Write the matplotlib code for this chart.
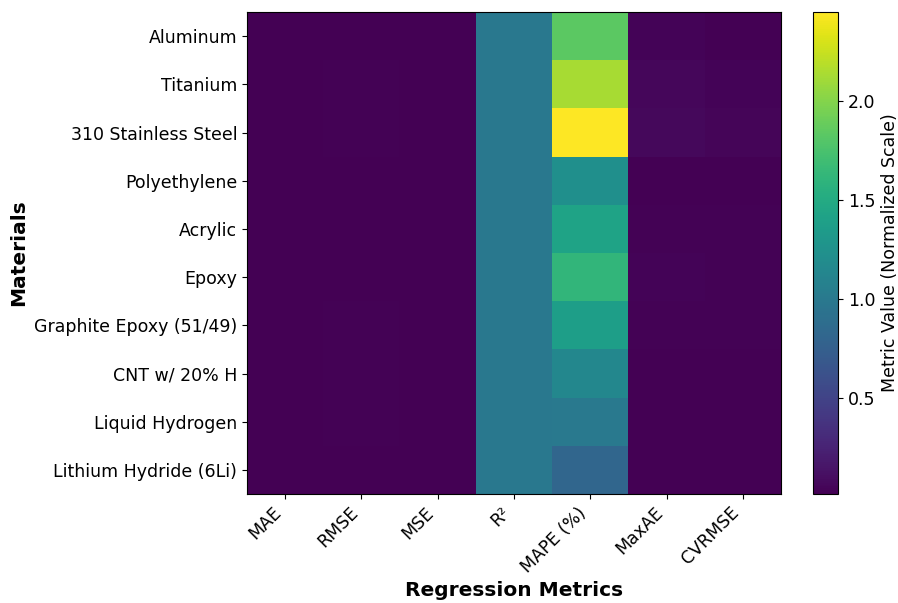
import numpy as np
import matplotlib
matplotlib.use("Agg")
import matplotlib.pyplot as plt

materials = ["Aluminum", "Titanium", "310 Stainless Steel", "Polyethylene", "Acrylic",
             "Epoxy", "Graphite Epoxy (51/49)", "CNT w/ 20% H", "Liquid Hydrogen",
             "Lithium Hydride (6Li)"]
metrics = ["MAE", "RMSE", "MSE", "R²", "MAPE (%)", "MaxAE", "CVRMSE"]

mae    = [0.02, 0.02, 0.02, 0.02, 0.02, 0.02, 0.02, 0.02, 0.02, 0.02]
rmse   = [0.02, 0.03, 0.03, 0.02, 0.02, 0.02, 0.025, 0.025, 0.025, 0.02]
mse    = [0.015, 0.015, 0.015, 0.015, 0.015, 0.015, 0.015, 0.015, 0.015, 0.015]
r2     = [0.99, 0.99, 0.99, 0.99, 0.99, 0.99, 0.99, 0.99, 0.99, 0.99]
mape   = [1.84, 2.13, 2.45, 1.23, 1.43, 1.62, 1.38, 1.14, 1.00, 0.82]
maxae  = [0.04, 0.06, 0.065, 0.02, 0.03, 0.035, 0.03, 0.02, 0.02, 0.02]
cvrmse = [0.02, 0.04, 0.05, 0.02, 0.025, 0.025, 0.025, 0.02, 0.02, 0.02]

data = np.array([mae, rmse, mse, r2, mape, maxae, cvrmse]).T

fig = plt.figure(figsize=(8.98, 6.03), dpi=100)
ax = fig.add_axes([247/898, 1 - 494/603, (781-247)/898, (494-12)/603])
cax = fig.add_axes([813/898, 1 - 494/603, (838-813)/898, (494-12)/603])

im = ax.imshow(data, cmap="viridis", aspect="auto")
ax.set_xticks(range(len(metrics)))
ax.set_xticklabels(metrics, rotation=45, ha="right", fontsize=12.5)
ax.set_yticks(range(len(materials)))
ax.set_yticklabels(materials, fontsize=12.5)
ax.set_xlabel("Regression Metrics", fontsize=14.5, fontweight="bold")
ax.set_ylabel("Materials", fontsize=14.5, fontweight="bold")

cb = fig.colorbar(im, cax=cax)
cb.set_ticks([0.5, 1.0, 1.5, 2.0])
cb.ax.tick_params(labelsize=12.5)
cb.set_label("Metric Value (Normalized Scale)", fontsize=12.5)

fig.savefig("out.png", dpi=100)
